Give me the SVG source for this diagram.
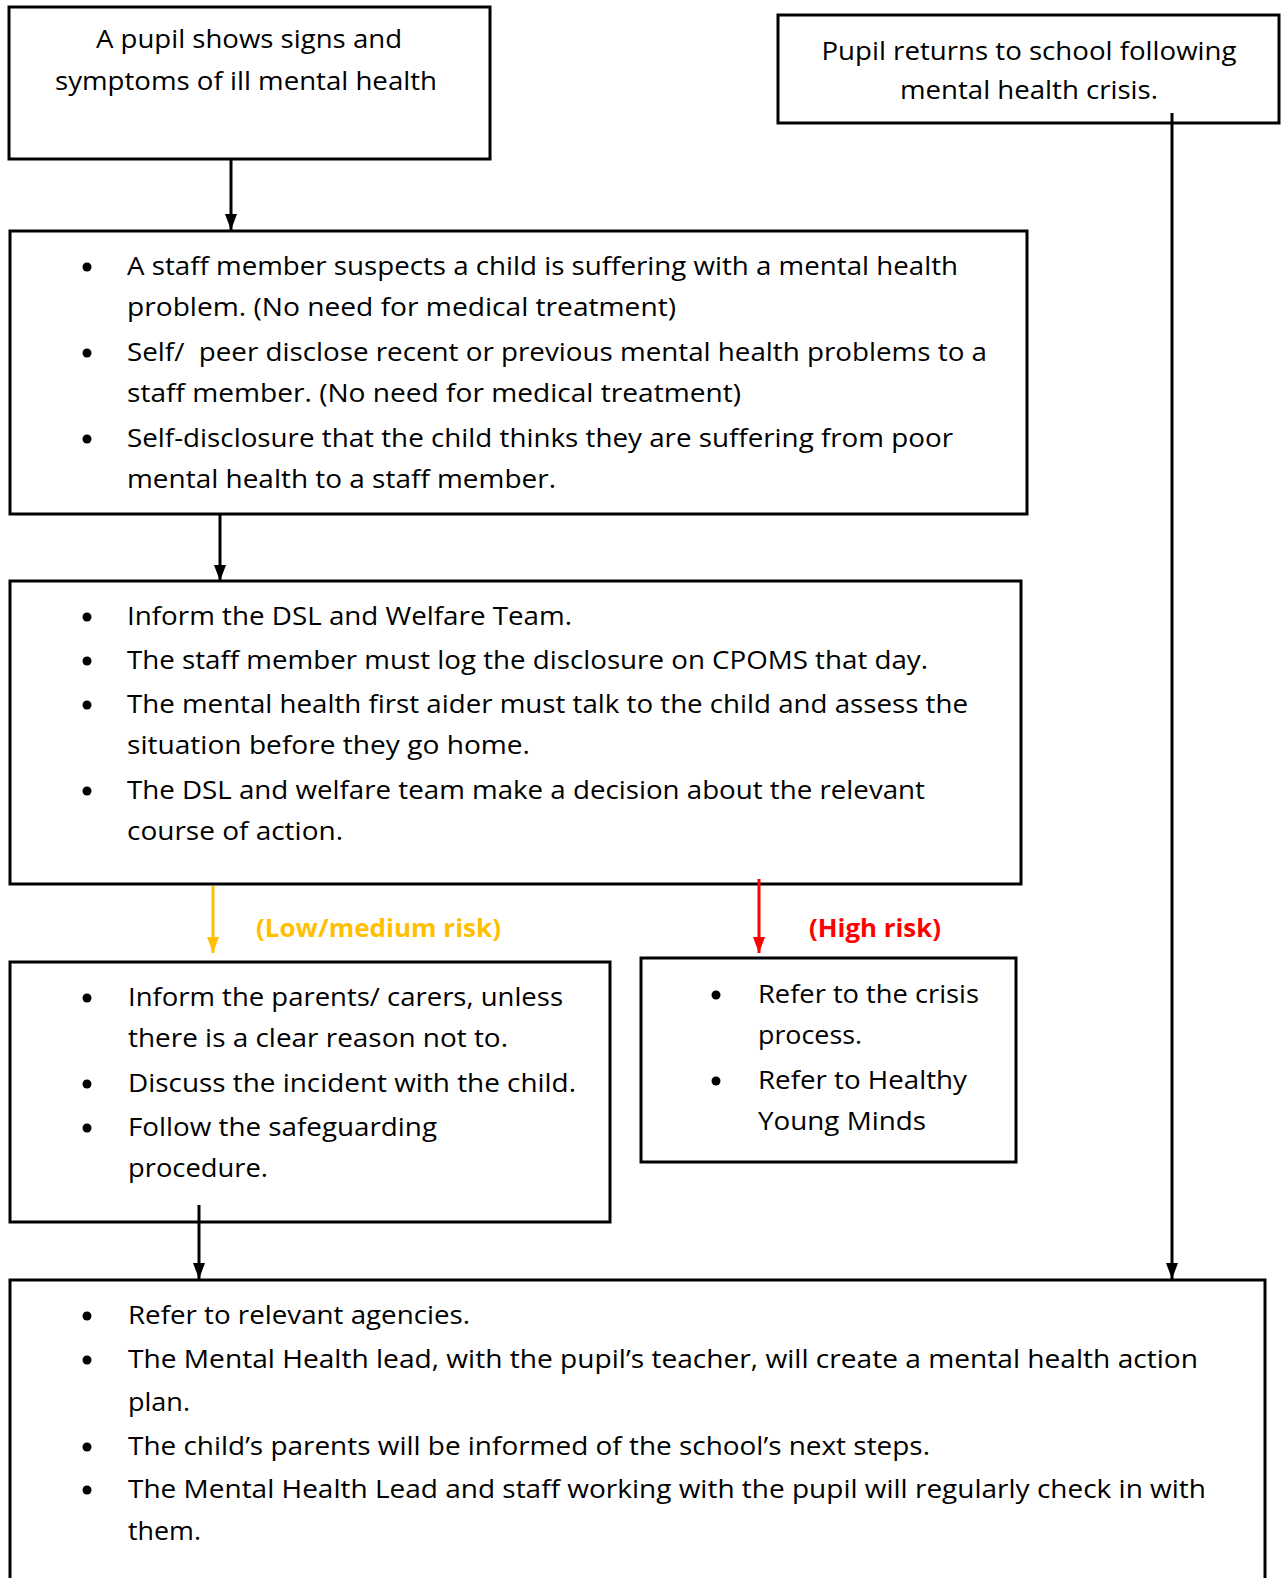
<svg xmlns="http://www.w3.org/2000/svg" width="1281" height="1578" viewBox="0 0 1281 1578">
<style>
.box{fill:#fff;stroke:#000;stroke-width:3}
.t{font-family:"Open Sans","Noto Sans","Liberation Sans",sans-serif;font-size:25.5px;fill:#000}
.c{text-anchor:middle}
.pre{white-space:pre}
.lbl{font-family:"Open Sans","Noto Sans","Liberation Sans",sans-serif;font-size:25.5px;font-weight:bold}
.b{fill:#000}
.con{fill:none;stroke-width:3}
</style>
<defs>
<marker id="ak" markerUnits="userSpaceOnUse" markerWidth="16" markerHeight="12" refX="16" refY="6" orient="auto"><path d="M0,0 L16,6 L0,12 z" fill="#000"/></marker>
<marker id="ay" markerUnits="userSpaceOnUse" markerWidth="16" markerHeight="12" refX="16" refY="6" orient="auto"><path d="M0,0 L16,6 L0,12 z" fill="#FFC000"/></marker>
<marker id="ar" markerUnits="userSpaceOnUse" markerWidth="16" markerHeight="12" refX="16" refY="6" orient="auto"><path d="M0,0 L16,6 L0,12 z" fill="#FF0000"/></marker>
</defs>
<rect width="1281" height="1578" fill="#fff"/>

<g id="n1">
<rect class="box" x="9" y="7" width="481" height="152"/>
<text class="t c" x="249" y="48" textLength="306" lengthAdjust="spacingAndGlyphs">A pupil shows signs and</text>
<text class="t c" x="246" y="90" textLength="382" lengthAdjust="spacingAndGlyphs">symptoms of ill mental health</text>
</g>

<g id="n2">
<rect class="box" x="778" y="15" width="501" height="108"/>
<text class="t c" x="1029" y="60" textLength="415" lengthAdjust="spacingAndGlyphs">Pupil returns to school following</text>
<text class="t c" x="1029" y="99" textLength="258" lengthAdjust="spacingAndGlyphs">mental health crisis.</text>
</g>

<g id="n3">
<rect class="box" x="10" y="231" width="1017" height="283"/>
<circle class="b" cx="87" cy="267" r="4.5"/>
<circle class="b" cx="87" cy="353" r="4.5"/>
<circle class="b" cx="87" cy="439" r="4.5"/>
<text class="t" x="127" y="275" textLength="831" lengthAdjust="spacingAndGlyphs">A staff member suspects a child is suffering with a mental health</text>
<text class="t" x="127" y="316" textLength="549" lengthAdjust="spacingAndGlyphs">problem. (No need for medical treatment)</text>
<text class="t pre" x="127" y="361" textLength="860" lengthAdjust="spacingAndGlyphs" xml:space="preserve">Self/  peer disclose recent or previous mental health problems to a</text>
<text class="t" x="127" y="402" textLength="614" lengthAdjust="spacingAndGlyphs">staff member. (No need for medical treatment)</text>
<text class="t" x="127" y="447" textLength="826" lengthAdjust="spacingAndGlyphs">Self-disclosure that the child thinks they are suffering from poor</text>
<text class="t" x="127" y="488" textLength="429" lengthAdjust="spacingAndGlyphs">mental health to a staff member.</text>
</g>

<g id="n4">
<rect class="box" x="10" y="581" width="1011" height="303"/>
<circle class="b" cx="87" cy="617" r="4.5"/>
<circle class="b" cx="87" cy="661" r="4.5"/>
<circle class="b" cx="87" cy="705" r="4.5"/>
<circle class="b" cx="87" cy="791" r="4.5"/>
<text class="t" x="127" y="625" textLength="445" lengthAdjust="spacingAndGlyphs">Inform the DSL and Welfare Team.</text>
<text class="t" x="127" y="669" textLength="801" lengthAdjust="spacingAndGlyphs">The staff member must log the disclosure on CPOMS that day.</text>
<text class="t" x="127" y="713" textLength="841" lengthAdjust="spacingAndGlyphs">The mental health first aider must talk to the child and assess the</text>
<text class="t" x="127" y="754" textLength="403" lengthAdjust="spacingAndGlyphs">situation before they go home.</text>
<text class="t" x="127" y="799" textLength="798" lengthAdjust="spacingAndGlyphs">The DSL and welfare team make a decision about the relevant</text>
<text class="t" x="127" y="840" textLength="216" lengthAdjust="spacingAndGlyphs">course of action.</text>
</g>

<g id="n5">
<rect class="box" x="10" y="962" width="600" height="260"/>
<circle class="b" cx="87" cy="998" r="4.5"/>
<circle class="b" cx="87" cy="1084" r="4.5"/>
<circle class="b" cx="87" cy="1128" r="4.5"/>
<text class="t" x="128" y="1006" textLength="435" lengthAdjust="spacingAndGlyphs">Inform the parents/ carers, unless</text>
<text class="t" x="128" y="1047" textLength="380" lengthAdjust="spacingAndGlyphs">there is a clear reason not to.</text>
<text class="t" x="128" y="1092" textLength="448" lengthAdjust="spacingAndGlyphs">Discuss the incident with the child.</text>
<text class="t" x="128" y="1136" textLength="309" lengthAdjust="spacingAndGlyphs">Follow the safeguarding</text>
<text class="t" x="128" y="1177" textLength="140" lengthAdjust="spacingAndGlyphs">procedure.</text>
</g>

<g id="n6">
<rect class="box" x="641" y="958" width="375" height="204"/>
<circle class="b" cx="716" cy="995" r="4.5"/>
<circle class="b" cx="716" cy="1081" r="4.5"/>
<text class="t" x="758" y="1003" textLength="221" lengthAdjust="spacingAndGlyphs">Refer to the crisis</text>
<text class="t" x="758" y="1044" textLength="104" lengthAdjust="spacingAndGlyphs">process.</text>
<text class="t" x="758" y="1089" textLength="209" lengthAdjust="spacingAndGlyphs">Refer to Healthy</text>
<text class="t" x="758" y="1130" textLength="168" lengthAdjust="spacingAndGlyphs">Young Minds</text>
</g>

<g id="n7">
<rect class="box" x="10" y="1280" width="1255" height="320"/>
<circle class="b" cx="87" cy="1316" r="4.5"/>
<circle class="b" cx="87" cy="1360" r="4.5"/>
<circle class="b" cx="87" cy="1447" r="4.5"/>
<circle class="b" cx="87" cy="1490" r="4.5"/>
<text class="t" x="128" y="1324" textLength="342" lengthAdjust="spacingAndGlyphs">Refer to relevant agencies.</text>
<text class="t" x="128" y="1368" textLength="1070" lengthAdjust="spacingAndGlyphs">The Mental Health lead, with the pupil’s teacher, will create a mental health action</text>
<text class="t" x="128" y="1411" textLength="62" lengthAdjust="spacingAndGlyphs">plan.</text>
<text class="t" x="128" y="1455" textLength="802" lengthAdjust="spacingAndGlyphs">The child’s parents will be informed of the school’s next steps.</text>
<text class="t" x="128" y="1498" textLength="1078" lengthAdjust="spacingAndGlyphs">The Mental Health Lead and staff working with the pupil will regularly check in with</text>
<text class="t" x="128" y="1540" textLength="73" lengthAdjust="spacingAndGlyphs">them.</text>
</g>

<g id="connectors">
<line class="con" x1="231" y1="159" x2="231" y2="230" stroke="#000" marker-end="url(#ak)"/>
<line class="con" x1="220" y1="514" x2="220" y2="581" stroke="#000" marker-end="url(#ak)"/>
<line class="con" x1="213" y1="886" x2="213" y2="953" stroke="#FFC000" marker-end="url(#ay)"/>
<line class="con" x1="759" y1="879" x2="759" y2="953" stroke="#FF0000" marker-end="url(#ar)"/>
<line class="con" x1="199" y1="1205" x2="199" y2="1279" stroke="#000" marker-end="url(#ak)"/>
<line class="con" x1="1172" y1="113" x2="1172" y2="1279" stroke="#000" marker-end="url(#ak)"/>
<text class="lbl" x="256" y="937" fill="#FFC000" textLength="245" lengthAdjust="spacingAndGlyphs">(Low/medium risk)</text>
<text class="lbl" x="809" y="937" fill="#FF0000" textLength="132" lengthAdjust="spacingAndGlyphs">(High risk)</text>
</g>
</svg>
